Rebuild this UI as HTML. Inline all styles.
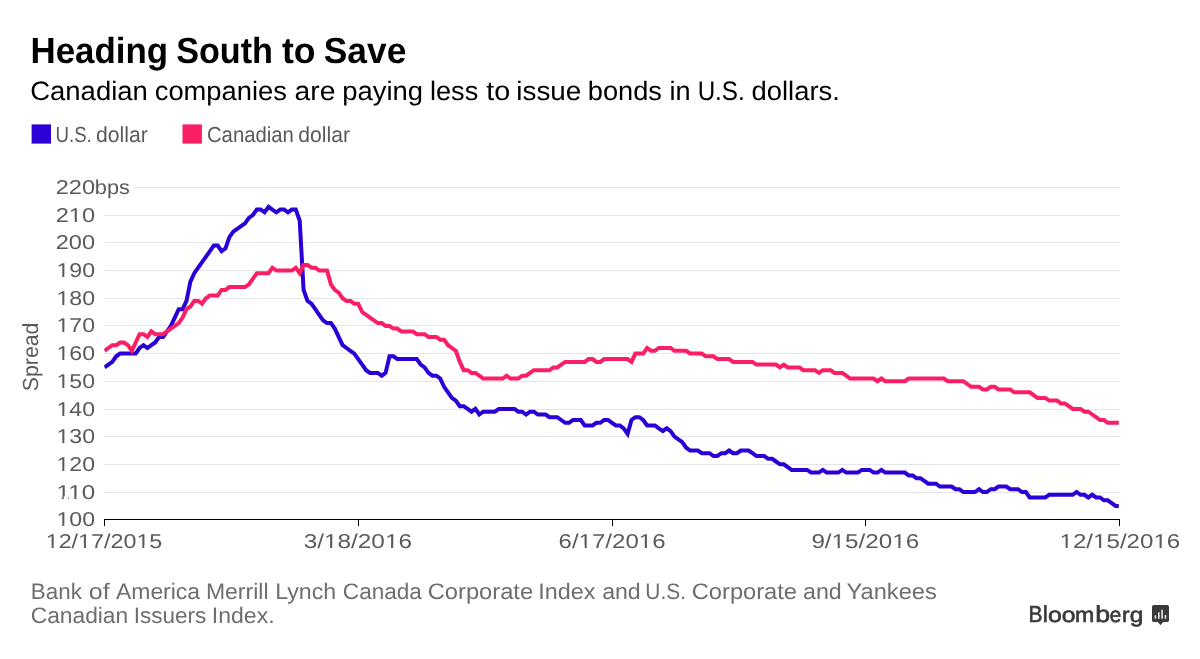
<!DOCTYPE html>
<html><head><meta charset="utf-8"><title>Heading South to Save</title>
<style>html,body{margin:0;padding:0;background:#fff;}svg{display:block;will-change:transform;transform:translateZ(0);text-rendering:geometricPrecision;}text{font-family:"Liberation Sans",sans-serif;}</style></head><body>
<svg width="1200" height="659" viewBox="0 0 1200 659">
<rect width="1200" height="659" fill="#fff"/>
<rect x="31.6" y="124.4" width="19.4" height="19.2" fill="#2a00d6"/>
<rect x="182.5" y="124.4" width="19.4" height="19.2" fill="#fa1e64"/>
<g stroke="#e2e5ec" stroke-width="1" shape-rendering="crispEdges">
<line x1="104" y1="492.5" x2="1120" y2="492.5"/>
<line x1="104" y1="464.5" x2="1120" y2="464.5"/>
<line x1="104" y1="436.5" x2="1120" y2="436.5"/>
<line x1="104" y1="409.5" x2="1120" y2="409.5"/>
<line x1="104" y1="381.5" x2="1120" y2="381.5"/>
<line x1="104" y1="353.5" x2="1120" y2="353.5"/>
<line x1="104" y1="325.5" x2="1120" y2="325.5"/>
<line x1="104" y1="298.5" x2="1120" y2="298.5"/>
<line x1="104" y1="270.5" x2="1120" y2="270.5"/>
<line x1="104" y1="242.5" x2="1120" y2="242.5"/>
<line x1="104" y1="215.5" x2="1120" y2="215.5"/>
<line x1="134" y1="187.5" x2="1120" y2="187.5"/>
</g>
<text x="30.47" y="63.0" font-size="36.34" font-weight="bold" fill="#000" textLength="137.63" lengthAdjust="spacingAndGlyphs">Heading</text>
<text x="176.13" y="63.0" font-size="36.34" font-weight="bold" fill="#000" textLength="96.89" lengthAdjust="spacingAndGlyphs">South</text>
<text x="281.89" y="63.0" font-size="36.34" font-weight="bold" fill="#000" textLength="33.62" lengthAdjust="spacingAndGlyphs">to</text>
<text x="323.82" y="63.0" font-size="36.34" font-weight="bold" fill="#000" textLength="82.49" lengthAdjust="spacingAndGlyphs">Save</text>
<text x="30.21" y="99.5" font-size="26.74" font-weight="normal" fill="#000" textLength="117.65" lengthAdjust="spacingAndGlyphs">Canadian</text>
<text x="154.72" y="99.5" font-size="26.74" font-weight="normal" fill="#000" textLength="132.18" lengthAdjust="spacingAndGlyphs">companies</text>
<text x="294.53" y="99.5" font-size="26.74" font-weight="normal" fill="#000" textLength="40.84" lengthAdjust="spacingAndGlyphs">are</text>
<text x="342.22" y="99.5" font-size="26.74" font-weight="normal" fill="#000" textLength="80.75" lengthAdjust="spacingAndGlyphs">paying</text>
<text x="429.98" y="99.5" font-size="26.74" font-weight="normal" fill="#000" textLength="48.24" lengthAdjust="spacingAndGlyphs">less</text>
<text x="486.37" y="99.5" font-size="26.74" font-weight="normal" fill="#000" textLength="23.98" lengthAdjust="spacingAndGlyphs">to</text>
<text x="516.33" y="99.5" font-size="26.74" font-weight="normal" fill="#000" textLength="65.01" lengthAdjust="spacingAndGlyphs">issue</text>
<text x="587.76" y="99.5" font-size="26.74" font-weight="normal" fill="#000" textLength="74.22" lengthAdjust="spacingAndGlyphs">bonds</text>
<text x="669.59" y="99.5" font-size="26.74" font-weight="normal" fill="#000" textLength="21.11" lengthAdjust="spacingAndGlyphs">in</text>
<text x="697.65" y="99.5" font-size="26.74" font-weight="normal" fill="#000" textLength="47.06" lengthAdjust="spacingAndGlyphs">U.S.</text>
<text x="751.55" y="99.5" font-size="26.74" font-weight="normal" fill="#000" textLength="88.36" lengthAdjust="spacingAndGlyphs">dollars.</text>
<text x="55.47" y="142.0" font-size="21.80" font-weight="normal" fill="#5a5a5a" textLength="36.31" lengthAdjust="spacingAndGlyphs">U.S.</text>
<text x="96.07" y="142.0" font-size="21.80" font-weight="normal" fill="#5a5a5a" textLength="51.79" lengthAdjust="spacingAndGlyphs">dollar</text>
<text x="206.97" y="142.0" font-size="21.80" font-weight="normal" fill="#5a5a5a" textLength="86.87" lengthAdjust="spacingAndGlyphs">Canadian</text>
<text x="298.28" y="142.0" font-size="21.80" font-weight="normal" fill="#5a5a5a" textLength="51.74" lengthAdjust="spacingAndGlyphs">dollar</text>
<text x="30.87" y="598.6" font-size="22.38" font-weight="normal" fill="#6e6e6e" textLength="50.99" lengthAdjust="spacingAndGlyphs">Bank</text>
<text x="88.81" y="598.6" font-size="22.38" font-weight="normal" fill="#6e6e6e" textLength="20.83" lengthAdjust="spacingAndGlyphs">of</text>
<text x="116.02" y="598.6" font-size="22.38" font-weight="normal" fill="#6e6e6e" textLength="84.03" lengthAdjust="spacingAndGlyphs">America</text>
<text x="205.91" y="598.6" font-size="22.38" font-weight="normal" fill="#6e6e6e" textLength="62.60" lengthAdjust="spacingAndGlyphs">Merrill</text>
<text x="275.26" y="598.6" font-size="22.38" font-weight="normal" fill="#6e6e6e" textLength="60.99" lengthAdjust="spacingAndGlyphs">Lynch</text>
<text x="342.87" y="598.6" font-size="22.38" font-weight="normal" fill="#6e6e6e" textLength="78.92" lengthAdjust="spacingAndGlyphs">Canada</text>
<text x="427.78" y="598.6" font-size="22.38" font-weight="normal" fill="#6e6e6e" textLength="105.31" lengthAdjust="spacingAndGlyphs">Corporate</text>
<text x="538.28" y="598.6" font-size="22.38" font-weight="normal" fill="#6e6e6e" textLength="57.11" lengthAdjust="spacingAndGlyphs">Index</text>
<text x="602.15" y="598.6" font-size="22.38" font-weight="normal" fill="#6e6e6e" textLength="38.61" lengthAdjust="spacingAndGlyphs">and</text>
<text x="645.34" y="598.6" font-size="22.38" font-weight="normal" fill="#6e6e6e" textLength="40.62" lengthAdjust="spacingAndGlyphs">U.S.</text>
<text x="691.78" y="598.6" font-size="22.38" font-weight="normal" fill="#6e6e6e" textLength="105.21" lengthAdjust="spacingAndGlyphs">Corporate</text>
<text x="803.03" y="598.6" font-size="22.38" font-weight="normal" fill="#6e6e6e" textLength="38.69" lengthAdjust="spacingAndGlyphs">and</text>
<text x="846.56" y="598.6" font-size="22.38" font-weight="normal" fill="#6e6e6e" textLength="90.26" lengthAdjust="spacingAndGlyphs">Yankees</text>
<text x="30.75" y="622.6" font-size="22.38" font-weight="normal" fill="#6e6e6e" textLength="97.44" lengthAdjust="spacingAndGlyphs">Canadian</text>
<text x="133.72" y="622.6" font-size="22.38" font-weight="normal" fill="#6e6e6e" textLength="72.53" lengthAdjust="spacingAndGlyphs">Issuers</text>
<text x="211.84" y="622.6" font-size="22.38" font-weight="normal" fill="#6e6e6e" textLength="62.78" lengthAdjust="spacingAndGlyphs">Index.</text>
<text x="55.78" y="194.0" font-size="20.06" font-weight="normal" fill="#5a5a5a" textLength="39.33" lengthAdjust="spacingAndGlyphs">220</text>
<text x="94.89" y="194.0" font-size="20.06" font-weight="normal" fill="#5a5a5a" textLength="34.91" lengthAdjust="spacingAndGlyphs">bps</text>
<text x="56.46" y="526.0" font-size="20.06" font-weight="normal" fill="#5a5a5a" textLength="38.59" lengthAdjust="spacingAndGlyphs">100</text>
<text x="56.50" y="499.0" font-size="20.06" font-weight="normal" fill="#5a5a5a" textLength="38.66" lengthAdjust="spacingAndGlyphs">110</text>
<text x="56.46" y="471.0" font-size="20.06" font-weight="normal" fill="#5a5a5a" textLength="38.59" lengthAdjust="spacingAndGlyphs">120</text>
<text x="56.46" y="443.0" font-size="20.06" font-weight="normal" fill="#5a5a5a" textLength="38.59" lengthAdjust="spacingAndGlyphs">130</text>
<text x="56.46" y="416.0" font-size="20.06" font-weight="normal" fill="#5a5a5a" textLength="38.59" lengthAdjust="spacingAndGlyphs">140</text>
<text x="56.46" y="388.0" font-size="20.06" font-weight="normal" fill="#5a5a5a" textLength="38.59" lengthAdjust="spacingAndGlyphs">150</text>
<text x="56.46" y="360.0" font-size="20.06" font-weight="normal" fill="#5a5a5a" textLength="38.59" lengthAdjust="spacingAndGlyphs">160</text>
<text x="56.46" y="332.0" font-size="20.06" font-weight="normal" fill="#5a5a5a" textLength="38.59" lengthAdjust="spacingAndGlyphs">170</text>
<text x="56.46" y="305.0" font-size="20.06" font-weight="normal" fill="#5a5a5a" textLength="38.59" lengthAdjust="spacingAndGlyphs">180</text>
<text x="56.46" y="277.0" font-size="20.06" font-weight="normal" fill="#5a5a5a" textLength="38.59" lengthAdjust="spacingAndGlyphs">190</text>
<text x="55.78" y="249.0" font-size="20.06" font-weight="normal" fill="#5a5a5a" textLength="39.33" lengthAdjust="spacingAndGlyphs">200</text>
<text x="55.78" y="222.0" font-size="20.06" font-weight="normal" fill="#5a5a5a" textLength="39.33" lengthAdjust="spacingAndGlyphs">210</text>
<text x="45.69" y="548.0" font-size="20.06" font-weight="normal" fill="#5a5a5a" textLength="116.62" lengthAdjust="spacingAndGlyphs">12/17/2015</text>
<text x="303.65" y="548.0" font-size="20.06" font-weight="normal" fill="#5a5a5a" textLength="108.34" lengthAdjust="spacingAndGlyphs">3/18/2016</text>
<text x="558.59" y="548.0" font-size="20.06" font-weight="normal" fill="#5a5a5a" textLength="106.95" lengthAdjust="spacingAndGlyphs">6/17/2016</text>
<text x="811.40" y="548.0" font-size="20.06" font-weight="normal" fill="#5a5a5a" textLength="107.76" lengthAdjust="spacingAndGlyphs">9/15/2016</text>
<text x="1059.47" y="548.0" font-size="20.06" font-weight="normal" fill="#5a5a5a" textLength="120.84" lengthAdjust="spacingAndGlyphs">12/15/2016</text>
<text x="1028.53" y="621.8" font-size="23.11" font-weight="normal" fill="#3a3a3a" stroke="#3a3a3a" stroke-width="0.62" textLength="13.98" lengthAdjust="spacingAndGlyphs">B</text>
<text x="1042.72" y="621.8" font-size="23.00" font-weight="normal" fill="#3a3a3a" stroke="#3a3a3a" stroke-width="0.62" textLength="5.08" lengthAdjust="spacingAndGlyphs">l</text>
<text x="1047.92" y="621.8" font-size="21.20" font-weight="normal" fill="#3a3a3a" stroke="#3a3a3a" stroke-width="0.62" textLength="13.85" lengthAdjust="spacingAndGlyphs">o</text>
<text x="1061.78" y="621.8" font-size="21.20" font-weight="normal" fill="#3a3a3a" stroke="#3a3a3a" stroke-width="0.62" textLength="13.76" lengthAdjust="spacingAndGlyphs">o</text>
<text x="1075.08" y="621.8" font-size="21.20" font-weight="normal" fill="#3a3a3a" stroke="#3a3a3a" stroke-width="0.62" textLength="19.30" lengthAdjust="spacingAndGlyphs">m</text>
<text x="1095.15" y="621.8" font-size="23.00" font-weight="normal" fill="#3a3a3a" stroke="#3a3a3a" stroke-width="0.62" textLength="14.89" lengthAdjust="spacingAndGlyphs">b</text>
<text x="1109.83" y="621.8" font-size="21.20" font-weight="normal" fill="#3a3a3a" stroke="#3a3a3a" stroke-width="0.62" textLength="11.47" lengthAdjust="spacingAndGlyphs">e</text>
<text x="1121.93" y="621.8" font-size="21.20" font-weight="normal" fill="#3a3a3a" stroke="#3a3a3a" stroke-width="0.62" textLength="7.55" lengthAdjust="spacingAndGlyphs">r</text>
<text x="1129.77" y="621.8" font-size="21.20" font-weight="normal" fill="#3a3a3a" stroke="#3a3a3a" stroke-width="0.62" textLength="13.61" lengthAdjust="spacingAndGlyphs">g</text>
<g fill="#fff"><rect x="57.15" y="523.39" width="5.10" height="3.31"/><rect x="64.38" y="523.39" width="4.63" height="3.31"/><rect x="57.13" y="496.39" width="4.63" height="3.31"/><rect x="63.70" y="496.39" width="4.21" height="3.31"/><rect x="68.91" y="496.39" width="5.35" height="3.31"/><rect x="76.47" y="496.39" width="4.85" height="3.31"/><rect x="57.15" y="468.39" width="5.10" height="3.31"/><rect x="64.38" y="468.39" width="4.63" height="3.31"/><rect x="57.15" y="440.39" width="5.10" height="3.31"/><rect x="64.38" y="440.39" width="4.63" height="3.31"/><rect x="57.15" y="413.39" width="5.10" height="3.31"/><rect x="64.38" y="413.39" width="4.63" height="3.31"/><rect x="57.15" y="385.39" width="5.10" height="3.31"/><rect x="64.38" y="385.39" width="4.63" height="3.31"/><rect x="57.15" y="357.39" width="5.10" height="3.31"/><rect x="64.38" y="357.39" width="4.63" height="3.31"/><rect x="57.15" y="329.39" width="5.10" height="3.31"/><rect x="64.38" y="329.39" width="4.63" height="3.31"/><rect x="57.15" y="302.39" width="5.10" height="3.31"/><rect x="64.38" y="302.39" width="4.63" height="3.31"/><rect x="57.15" y="274.39" width="5.10" height="3.31"/><rect x="64.38" y="274.39" width="4.63" height="3.31"/><rect x="69.59" y="219.39" width="5.20" height="3.31"/><rect x="76.96" y="219.39" width="4.72" height="3.31"/><rect x="46.39" y="545.39" width="5.14" height="3.31"/><rect x="53.67" y="545.39" width="4.66" height="3.31"/><rect x="78.77" y="545.39" width="5.14" height="3.31"/><rect x="86.06" y="545.39" width="4.67" height="3.31"/><rect x="137.08" y="545.39" width="5.14" height="3.31"/><rect x="144.35" y="545.39" width="4.66" height="3.31"/><rect x="324.69" y="545.39" width="5.37" height="3.31"/><rect x="332.29" y="545.39" width="4.87" height="3.31"/><rect x="385.62" y="545.39" width="5.38" height="3.31"/><rect x="393.23" y="545.39" width="4.88" height="3.31"/><rect x="579.36" y="545.39" width="5.30" height="3.31"/><rect x="586.87" y="545.39" width="4.81" height="3.31"/><rect x="639.51" y="545.39" width="5.31" height="3.31"/><rect x="647.02" y="545.39" width="4.82" height="3.31"/><rect x="832.33" y="545.39" width="5.34" height="3.31"/><rect x="839.89" y="545.39" width="4.85" height="3.31"/><rect x="892.93" y="545.39" width="5.35" height="3.31"/><rect x="900.50" y="545.39" width="4.85" height="3.31"/><rect x="1060.19" y="545.39" width="5.32" height="3.31"/><rect x="1067.73" y="545.39" width="4.83" height="3.31"/><rect x="1093.75" y="545.39" width="5.33" height="3.31"/><rect x="1101.29" y="545.39" width="4.84" height="3.31"/><rect x="1154.16" y="545.39" width="5.32" height="3.31"/><rect x="1161.70" y="545.39" width="4.83" height="3.31"/></g>
<text transform="translate(38.3,391.2) rotate(-90)" font-size="21.80" fill="#5a5a5a" textLength="68.6" lengthAdjust="spacingAndGlyphs">Spread</text>
<clipPath id="c"><rect x="104.2" y="150" width="1014.6" height="400"/></clipPath><g clip-path="url(#c)">
<polyline points="104.5,367.4 108.4,364.6 112.3,361.9 116.2,356.3 120.1,353.6 124.0,353.6 127.9,353.6 131.8,353.6 135.7,353.6 139.6,348.0 143.5,345.2 147.4,348.0 151.3,345.2 155.2,342.5 159.2,336.9 163.1,336.9 167.0,331.4 170.9,325.9 174.8,317.6 178.7,309.2 182.6,309.2 186.5,300.9 190.4,281.6 194.3,273.2 198.2,267.7 202.1,262.2 206.0,256.6 209.9,251.1 213.8,245.6 217.7,245.6 221.6,251.1 225.5,248.3 229.4,237.2 233.3,231.7 237.2,228.9 241.1,226.2 245.0,223.4 248.9,217.9 252.8,215.1 256.8,209.6 260.7,209.6 264.6,212.3 268.5,206.8 272.4,209.6 276.3,212.3 280.2,209.6 284.1,209.6 288.0,212.3 291.9,209.6 295.8,209.6 299.7,220.6 303.6,289.9 307.5,300.9 311.4,303.7 315.3,309.2 319.2,314.8 323.1,320.3 327.0,323.1 330.9,323.1 334.8,328.6 338.7,336.9 342.6,345.2 346.5,348.0 350.4,350.8 354.3,353.6 358.2,359.1 362.2,364.6 366.1,370.2 370.0,372.9 373.9,372.9 377.8,372.9 381.7,375.7 385.6,372.9 389.5,356.3 393.4,356.3 397.3,359.1 401.2,359.1 405.1,359.1 409.0,359.1 412.9,359.1 416.8,359.1 420.7,364.6 424.6,367.4 428.5,372.9 432.4,375.7 436.3,375.7 440.2,378.5 444.1,386.8 448.0,392.3 451.9,397.9 455.8,400.6 459.8,406.2 463.7,406.2 467.6,408.9 471.5,411.7 475.4,408.9 479.3,414.5 483.2,411.7 487.1,411.7 491.0,411.7 494.9,411.7 498.8,408.9 502.7,408.9 506.6,408.9 510.5,408.9 514.4,408.9 518.3,411.7 522.2,411.7 526.1,414.5 530.0,411.7 533.9,411.7 537.8,414.5 541.7,414.5 545.6,414.5 549.5,417.2 553.4,417.2 557.3,417.2 561.2,420.0 565.2,422.8 569.1,422.8 573.0,420.0 576.9,420.0 580.8,420.0 584.7,425.5 588.6,425.5 592.5,425.5 596.4,422.8 600.3,422.8 604.2,420.0 608.1,420.0 612.0,422.8 615.9,425.5 619.8,425.5 623.7,428.3 627.6,433.9 631.5,420.0 635.4,417.2 639.3,417.2 643.2,420.0 647.1,425.5 651.0,425.5 654.9,425.5 658.8,428.3 662.8,431.1 666.7,428.3 670.6,431.1 674.5,436.6 678.4,439.4 682.3,442.2 686.2,447.7 690.1,450.5 694.0,450.5 697.9,450.5 701.8,453.2 705.7,453.2 709.6,453.2 713.5,456.0 717.4,456.0 721.3,453.2 725.2,453.2 729.1,450.5 733.0,453.2 736.9,453.2 740.8,450.5 744.7,450.5 748.6,450.5 752.5,453.2 756.4,456.0 760.3,456.0 764.2,456.0 768.2,458.8 772.1,458.8 776.0,461.5 779.9,464.3 783.8,464.3 787.7,467.1 791.6,469.9 795.5,469.9 799.4,469.9 803.3,469.9 807.2,469.9 811.1,472.6 815.0,472.6 818.9,472.6 822.8,469.9 826.7,472.6 830.6,472.6 834.5,472.6 838.4,472.6 842.3,469.9 846.2,472.6 850.1,472.6 854.0,472.6 857.9,472.6 861.8,469.9 865.8,469.9 869.7,469.9 873.6,472.6 877.5,472.6 881.4,469.9 885.3,472.6 889.2,472.6 893.1,472.6 897.0,472.6 900.9,472.6 904.8,472.6 908.7,475.4 912.6,475.4 916.5,478.2 920.4,478.2 924.3,480.9 928.2,483.7 932.1,483.7 936.0,483.7 939.9,486.5 943.8,486.5 947.7,486.5 951.6,486.5 955.5,489.2 959.4,489.2 963.3,492.0 967.2,492.0 971.2,492.0 975.1,492.0 979.0,489.2 982.9,492.0 986.8,492.0 990.7,489.2 994.6,489.2 998.5,486.5 1002.4,486.5 1006.3,486.5 1010.2,489.2 1014.1,489.2 1018.0,489.2 1021.9,492.0 1025.8,492.0 1029.7,497.5 1033.6,497.5 1037.5,497.5 1041.4,497.5 1045.3,497.5 1049.2,494.8 1053.1,494.8 1057.0,494.8 1060.9,494.8 1064.8,494.8 1068.8,494.8 1072.7,494.8 1076.6,492.0 1080.5,494.8 1084.4,494.8 1088.3,497.5 1092.2,494.8 1096.1,497.5 1100.0,497.5 1103.9,500.3 1107.8,500.3 1111.7,503.1 1115.6,505.9 1119.5,505.9" fill="none" stroke="#2a00d6" stroke-width="4" stroke-linejoin="miter" stroke-linecap="butt"/>
<polyline points="104.5,350.8 108.4,348.0 112.3,345.2 116.2,345.2 120.1,342.5 124.0,342.5 127.9,345.2 131.8,350.8 135.7,342.5 139.6,334.2 143.5,334.2 147.4,336.9 151.3,331.4 155.2,334.2 159.2,334.2 163.1,334.2 167.0,331.4 170.9,328.6 174.8,325.9 178.7,323.1 182.6,317.6 186.5,309.2 190.4,306.5 194.3,300.9 198.2,300.9 202.1,303.7 206.0,298.2 209.9,295.4 213.8,295.4 217.7,295.4 221.6,289.9 225.5,289.9 229.4,287.1 233.3,287.1 237.2,287.1 241.1,287.1 245.0,287.1 248.9,284.3 252.8,278.8 256.8,273.2 260.7,273.2 264.6,273.2 268.5,273.2 272.4,267.7 276.3,270.5 280.2,270.5 284.1,270.5 288.0,270.5 291.9,270.5 295.8,267.7 299.7,273.2 303.6,264.9 307.5,264.9 311.4,267.7 315.3,267.7 319.2,270.5 323.1,270.5 327.0,270.5 330.9,284.3 334.8,289.9 338.7,292.6 342.6,298.2 346.5,300.9 350.4,300.9 354.3,303.7 358.2,303.7 362.2,312.0 366.1,314.8 370.0,317.6 373.9,320.3 377.8,323.1 381.7,323.1 385.6,325.9 389.5,325.9 393.4,328.6 397.3,328.6 401.2,331.4 405.1,331.4 409.0,331.4 412.9,331.4 416.8,334.2 420.7,334.2 424.6,334.2 428.5,336.9 432.4,336.9 436.3,336.9 440.2,339.7 444.1,339.7 448.0,345.2 451.9,348.0 455.8,350.8 459.8,361.9 463.7,370.2 467.6,370.2 471.5,372.9 475.4,372.9 479.3,375.7 483.2,378.5 487.1,378.5 491.0,378.5 494.9,378.5 498.8,378.5 502.7,378.5 506.6,375.7 510.5,378.5 514.4,378.5 518.3,378.5 522.2,375.7 526.1,375.7 530.0,372.9 533.9,370.2 537.8,370.2 541.7,370.2 545.6,370.2 549.5,370.2 553.4,367.4 557.3,367.4 561.2,364.6 565.2,361.9 569.1,361.9 573.0,361.9 576.9,361.9 580.8,361.9 584.7,361.9 588.6,359.1 592.5,359.1 596.4,361.9 600.3,361.9 604.2,359.1 608.1,359.1 612.0,359.1 615.9,359.1 619.8,359.1 623.7,359.1 627.6,359.1 631.5,361.9 635.4,353.6 639.3,353.6 643.2,353.6 647.1,348.0 651.0,350.8 654.9,350.8 658.8,348.0 662.8,348.0 666.7,348.0 670.6,348.0 674.5,350.8 678.4,350.8 682.3,350.8 686.2,350.8 690.1,353.6 694.0,353.6 697.9,353.6 701.8,353.6 705.7,356.3 709.6,356.3 713.5,356.3 717.4,359.1 721.3,359.1 725.2,359.1 729.1,359.1 733.0,361.9 736.9,361.9 740.8,361.9 744.7,361.9 748.6,361.9 752.5,361.9 756.4,364.6 760.3,364.6 764.2,364.6 768.2,364.6 772.1,364.6 776.0,364.6 779.9,367.4 783.8,364.6 787.7,367.4 791.6,367.4 795.5,367.4 799.4,367.4 803.3,370.2 807.2,370.2 811.1,370.2 815.0,370.2 818.9,372.9 822.8,370.2 826.7,370.2 830.6,370.2 834.5,372.9 838.4,372.9 842.3,372.9 846.2,375.7 850.1,378.5 854.0,378.5 857.9,378.5 861.8,378.5 865.8,378.5 869.7,378.5 873.6,378.5 877.5,381.2 881.4,378.5 885.3,381.2 889.2,381.2 893.1,381.2 897.0,381.2 900.9,381.2 904.8,381.2 908.7,378.5 912.6,378.5 916.5,378.5 920.4,378.5 924.3,378.5 928.2,378.5 932.1,378.5 936.0,378.5 939.9,378.5 943.8,378.5 947.7,381.2 951.6,381.2 955.5,381.2 959.4,381.2 963.3,381.2 967.2,384.0 971.2,386.8 975.1,386.8 979.0,386.8 982.9,389.5 986.8,389.5 990.7,386.8 994.6,386.8 998.5,389.5 1002.4,389.5 1006.3,389.5 1010.2,389.5 1014.1,392.3 1018.0,392.3 1021.9,392.3 1025.8,392.3 1029.7,392.3 1033.6,395.1 1037.5,397.9 1041.4,397.9 1045.3,397.9 1049.2,400.6 1053.1,400.6 1057.0,400.6 1060.9,403.4 1064.8,403.4 1068.8,406.2 1072.7,408.9 1076.6,408.9 1080.5,408.9 1084.4,411.7 1088.3,411.7 1092.2,414.5 1096.1,417.2 1100.0,420.0 1103.9,420.0 1107.8,422.8 1111.7,422.8 1115.6,422.8 1119.5,422.8" fill="none" stroke="#fa1e64" stroke-width="4" stroke-linejoin="miter" stroke-linecap="butt"/></g>
<g stroke="#000" stroke-width="1" fill="none" shape-rendering="crispEdges">
<path d="M104.5 526 V519.5 H1119.5 V526"/>
<line x1="358.5" y1="519.5" x2="358.5" y2="526"/>
<line x1="612.5" y1="519.5" x2="612.5" y2="526"/>
<line x1="865.5" y1="519.5" x2="865.5" y2="526"/>
</g>
<g fill="#3a3a3a"><rect x="1152" y="605" width="17" height="17" rx="1.8"/><path d="M1157.6 621.8 L1160.5 625.3 L1163.4 621.8 Z"/></g>
<g fill="#e8e8e8"><rect x="1154.7" y="615.2" width="1.5" height="3.5"/><rect x="1158" y="612.3" width="1.6" height="6.4"/><rect x="1161.3" y="609.7" width="1.6" height="9"/><rect x="1164.7" y="615" width="1.5" height="3.7"/></g>
</svg></body></html>
